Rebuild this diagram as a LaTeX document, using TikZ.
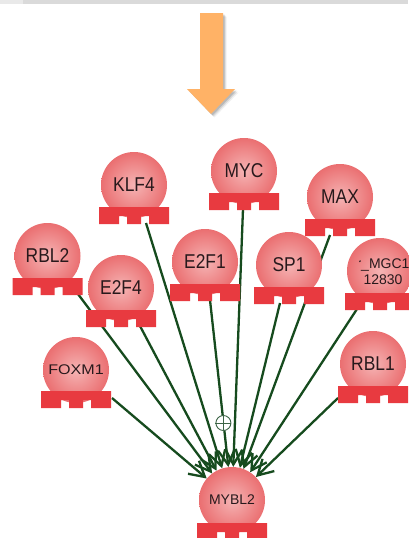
\documentclass[tikz,border=0pt]{standalone}
\usepackage{fontspec}
\setmainfont{Liberation Sans}
\newfontfamily\tallfont[FakeStretch=0.87]{Liberation Sans}
\newfontfamily\widefont[FakeStretch=1.15]{Liberation Sans}
\usetikzlibrary{arrows.meta}
\definecolor{edgegreen}{RGB}{22,75,30}
\definecolor{basered}{RGB}{232,58,64}
\definecolor{ballin}{RGB}{245,180,180}
\definecolor{ballmid}{RGB}{234,108,110}
\definecolor{ballout}{RGB}{220,56,60}
\definecolor{arroworange}{RGB}{255,178,102}
\definecolor{txt}{RGB}{40,25,28}
\definecolor{topbar}{RGB}{218,218,218}
\definecolor{plusc}{RGB}{60,100,70}
\pgfdeclareradialshading{geneball}{\pgfpoint{0bp}{0bp}}{color(0bp)=(ballin); color(26bp)=(ballmid); color(50bp)=(ballout)}
\pgfdeclarelayer{bg}
\pgfdeclarelayer{edges}
\pgfsetlayers{bg,edges,main}
\tikzset{
  gene/.style={circle, minimum size=66pt, inner sep=0pt, shade, shading=geneball, text=txt,
    font=\tallfont\fontsize{20}{20}\selectfont},
  smallgene/.style={gene, font=\fontsize{14}{14}\selectfont},
  widegene/.style={gene, font=\widefont\fontsize{14}{14}\selectfont},
  link/.style={draw=edgegreen, line width=2.3pt, -{Straight Barb[length=15pt,width=17pt]}},
  genebase/.pic={\fill[basered] (-35,0) -- (35,0) -- (35,17) -- (15,17) -- (15,9) -- (7,9) -- (7,17)
     -- (-7,17) -- (-7,9) -- (-15,9) -- (-15,17) -- (-35,17) -- cycle;}
}
\begin{document}
\begin{tikzpicture}[x=1pt,y=-1pt]
\useasboundingbox (0,0) rectangle (408,538);
\begin{pgfonlayer}{bg}
\fill[white] (0,0) rectangle (408,538);
\fill[topbar] (0,0) rectangle (408,3.5);
\fill[topbar!60] (0,0) rectangle (23,3.5);
\end{pgfonlayer}

% orange arrow with soft shadow
\foreach \s/\o in {3.5/0.06, 2.5/0.10, 1.5/0.14}{
\fill[black, opacity=\o, shift={(\s,\s)}]
  (200,13) -- (223,13) -- (223,89) -- (235,89) -- (211,114) -- (187,89) -- (200,89) -- cycle;
}
\fill[arroworange]
  (200,13) -- (223,13) -- (223,89) -- (235,89) -- (211,114) -- (187,89) -- (200,89) -- cycle;

% genes
\node[gene] (klf4) at (134,185) {KLF4};
\pic at (134,207) {genebase};
\node[gene] (myc) at (244,171) {MYC};
\pic at (244,193) {genebase};
\node[gene] (max) at (340,197) {MAX};
\pic at (340,219) {genebase};
\node[gene] (rbl2) at (47.5,256) {RBL2};
\pic at (47.5,278) {genebase};
\node[gene] (e2f4) at (121,288) {E2F4};
\pic at (121,310) {genebase};
\node[gene] (e2f1) at (205,262) {E2F1};
\pic at (205,284) {genebase};
\node[gene] (sp1) at (289,265) {SP1};
\pic at (289,287) {genebase};
\node[gene] (mgc) at (380,271) {};
\pic at (380,293) {genebase};
\begin{scope}
\clip (359,250) rectangle (410,292);
\node[text=txt, font=\fontsize{14}{16}\selectfont, align=center, inner sep=0pt] (mgclabel) at (383,272) {r\_MGC1\\12830};
\end{scope}
\node[gene] (rbl1) at (373,364) {RBL1};
\pic at (373,386) {genebase};
\node[widegene] (foxm1) at (76,370) {FOXM1};
\pic at (76,391) {genebase};
\node[smallgene] (mybl2) at (232,500) {MYBL2};
\pic at (232,523) {genebase};

% edge origins
\coordinate (foxm1o) at (112,398);
\coordinate (rbl2o) at (78,294);
\coordinate (e2f4o) at (140,326);
\coordinate (klf4o) at (146,223);
\coordinate (myco) at (243,209);
\coordinate (e2f1o) at (210,300);
\coordinate (sp1o) at (280,303);
\coordinate (maxo) at (330,235);
\coordinate (mgco) at (357,309);
\coordinate (rbl1o) at (338,398);

\begin{pgfonlayer}{edges}
\draw[link] (foxm1o) -- (mybl2);
\draw[link] (rbl2o) -- (mybl2);
\draw[link] (e2f4o) -- (mybl2);
\draw[link] (klf4o) -- (mybl2);
\draw[link] (myco) -- (mybl2);
\draw[link] (e2f1o) -- (mybl2);
\draw[link] (sp1o) -- (mybl2);
\draw[link] (maxo) -- (mybl2);
\draw[link] (mgco) -- (mybl2);
\draw[link] (rbl1o) -- (mybl2);
\end{pgfonlayer}

% plus marker on E2F1 edge
\node[circle, draw=plusc, fill=white, line width=0.9pt, minimum size=15pt, inner sep=0pt] (plusmark) at (223.4,423) {};
\draw[plusc, line width=0.9pt] (plusmark.north) -- (plusmark.south) (plusmark.west) -- (plusmark.east);
\end{tikzpicture}
\end{document}
